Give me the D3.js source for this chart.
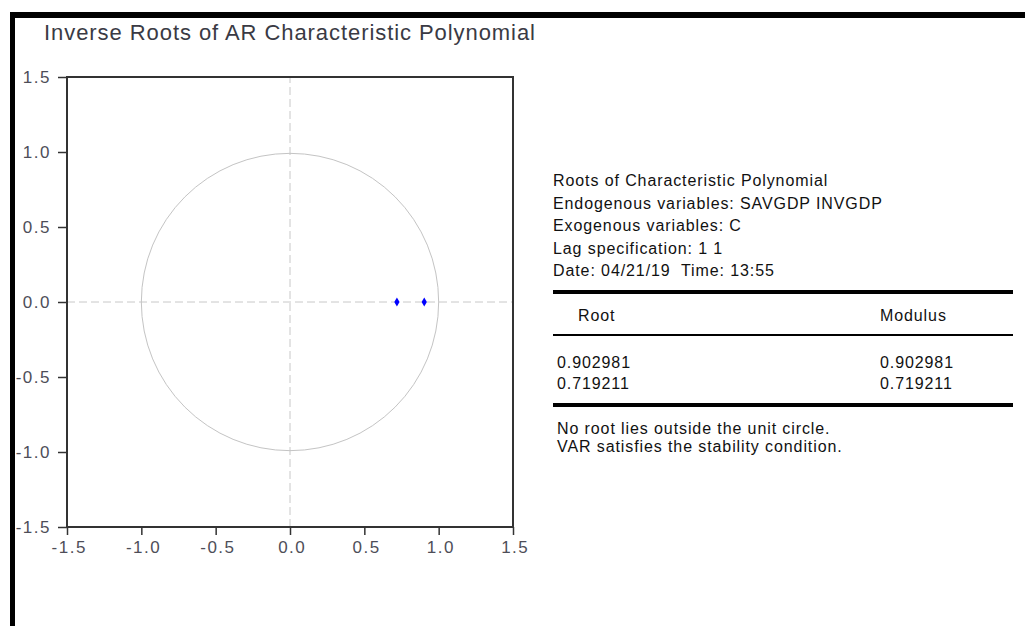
<!DOCTYPE html>
<html>
<head>
<meta charset="utf-8">
<script src="https://cdn.jsdelivr.net/npm/d3@7"></script>
<style>
  body { margin: 0; background: #fff; }
  svg { display: block; font-family: "Liberation Sans", Arial, sans-serif; }
  text { white-space: pre; }
</style>
</head>
<body>
<div id="graph"></div>
<script>
// roots (real, imaginary) and their modulus
const rootRe = [0.902981, 0.719211];
const rootIm = [0, 0];
const modulus = [0.902981, 0.719211];
const tickValues = [-1.5, -1.0, -0.5, 0.0, 0.5, 1.0, 1.5];
const titleText = "Inverse Roots of AR Characteristic Polynomial";
const infoLines = [
  "Roots of Characteristic Polynomial",
  "Endogenous variables: SAVGDP INVGDP",
  "Exogenous variables: C",
  "Lag specification: 1 1",
  "Date: 04/21/19  Time: 13:55"
];
const tableHeader = ["Root", "Modulus"];
const noteLines = [
  "No root lies outside the unit circle.",
  "VAR satisfies the stability condition."
];

const width = 1025, height = 626;
const svg = d3.select('#graph').append('svg')
  .attr('width', width).attr('height', height);

// outer frame (top and left edges)
svg.append('rect').attr('x', 10).attr('y', 12).attr('width', width).attr('height', 6).attr('fill', '#000');
svg.append('rect').attr('x', 10).attr('y', 12).attr('width', 5).attr('height', height).attr('fill', '#000');

svg.append('text')
  .attr('x', 44).attr('y', 40)
  .attr('font-size', 22)
  .attr('textLength', 491).attr('lengthAdjust', 'spacing')
  .attr('fill', '#3a3a44')
  .text(titleText);

const xScale = d3.scaleLinear().domain([-1.5, 1.5]).range([67, 513]);
const yScale = d3.scaleLinear().domain([-1.5, 1.5]).range([527, 77]);

const g = svg.append('g');

// zero lines
g.append('line')
  .attr('x1', xScale(-1.5)).attr('x2', xScale(1.5))
  .attr('y1', yScale(0)).attr('y2', yScale(0))
  .attr('stroke', '#c8c8c8').attr('stroke-dasharray', '8,4');
g.append('line')
  .attr('x1', xScale(0)).attr('x2', xScale(0))
  .attr('y1', yScale(-1.5)).attr('y2', yScale(1.5))
  .attr('stroke', '#c8c8c8').attr('stroke-dasharray', '8,4');

// unit circle
g.append('circle')
  .attr('cx', xScale(0)).attr('cy', yScale(0))
  .attr('r', xScale(1) - xScale(0))
  .attr('fill', 'none').attr('stroke', '#c4c4c4').attr('stroke-width', 1);

// plot box
g.append('rect')
  .attr('x', xScale(-1.5)).attr('y', yScale(1.5))
  .attr('width', xScale(1.5) - xScale(-1.5))
  .attr('height', yScale(-1.5) - yScale(1.5))
  .attr('fill', 'none').attr('stroke', '#333').attr('stroke-width', 2);

const fmt = d => d3.format('.1f')(d).replace('\u2212', '-');
const xAxis = d3.axisBottom(xScale).tickValues(tickValues).tickFormat(fmt).tickSize(8).tickPadding(6);
const yAxis = d3.axisLeft(yScale).tickValues(tickValues).tickFormat(fmt).tickSize(9).tickPadding(7);

const gx = svg.append('g').attr('transform', `translate(0,${yScale(-1.5)})`).call(xAxis);
const gy = svg.append('g').attr('transform', `translate(${xScale(-1.5)},0)`).call(yAxis);
[gx, gy].forEach(a => {
  a.select('.domain').remove();
  a.selectAll('line').attr('stroke', '#333').attr('stroke-width', 1.5);
  a.selectAll('text').attr('font-size', 17).attr('fill', '#4e4e58')
    .attr('letter-spacing', '1.5px')
    .attr('font-family', '"Liberation Sans", Arial, sans-serif');
});
gx.selectAll('text').attr('dx', '0.1em');

// roots
g.selectAll('path.root').data(rootRe).enter().append('path')
  .attr('class', 'root')
  .attr('transform', (d, i) => `translate(${xScale(d)},${yScale(rootIm[i])})`)
  .attr('d', d3.symbol().type(d3.symbolDiamond).size(24))
  .attr('fill', '#0000ff');

// right-side table
const tx = 553, tRight = 1013;
const info = svg.append('g').attr('font-size', 16).attr('letter-spacing', '0.9px').attr('fill', '#111');
info.selectAll('text.info').data(infoLines).enter().append('text')
  .attr('class', 'info')
  .attr('x', tx).attr('y', (d, i) => 186 + i * 22.5)
  .text(d => d);

info.append('rect').attr('x', tx).attr('y', 290).attr('width', tRight - tx).attr('height', 4).attr('fill', '#000');
info.append('text').attr('x', 578).attr('y', 321).text(tableHeader[0]);
info.append('text').attr('x', 880).attr('y', 321).text(tableHeader[1]);
info.append('rect').attr('x', tx).attr('y', 334).attr('width', tRight - tx).attr('height', 2).attr('fill', '#000');

const f6 = d3.format('.6f');
info.selectAll('text.rootv').data(rootRe).enter().append('text')
  .attr('class', 'rootv')
  .attr('x', 557).attr('y', (d, i) => 368 + i * 21)
  .text(d => f6(d));
info.selectAll('text.modv').data(modulus).enter().append('text')
  .attr('class', 'modv')
  .attr('x', 880).attr('y', (d, i) => 368 + i * 21)
  .text(d => f6(d));

info.append('rect').attr('x', tx).attr('y', 403).attr('width', tRight - tx).attr('height', 4).attr('fill', '#000');
info.selectAll('text.note').data(noteLines).enter().append('text')
  .attr('class', 'note')
  .attr('x', 557).attr('y', (d, i) => 434 + i * 17.5)
  .text(d => d);
</script>
</body>
</html>
